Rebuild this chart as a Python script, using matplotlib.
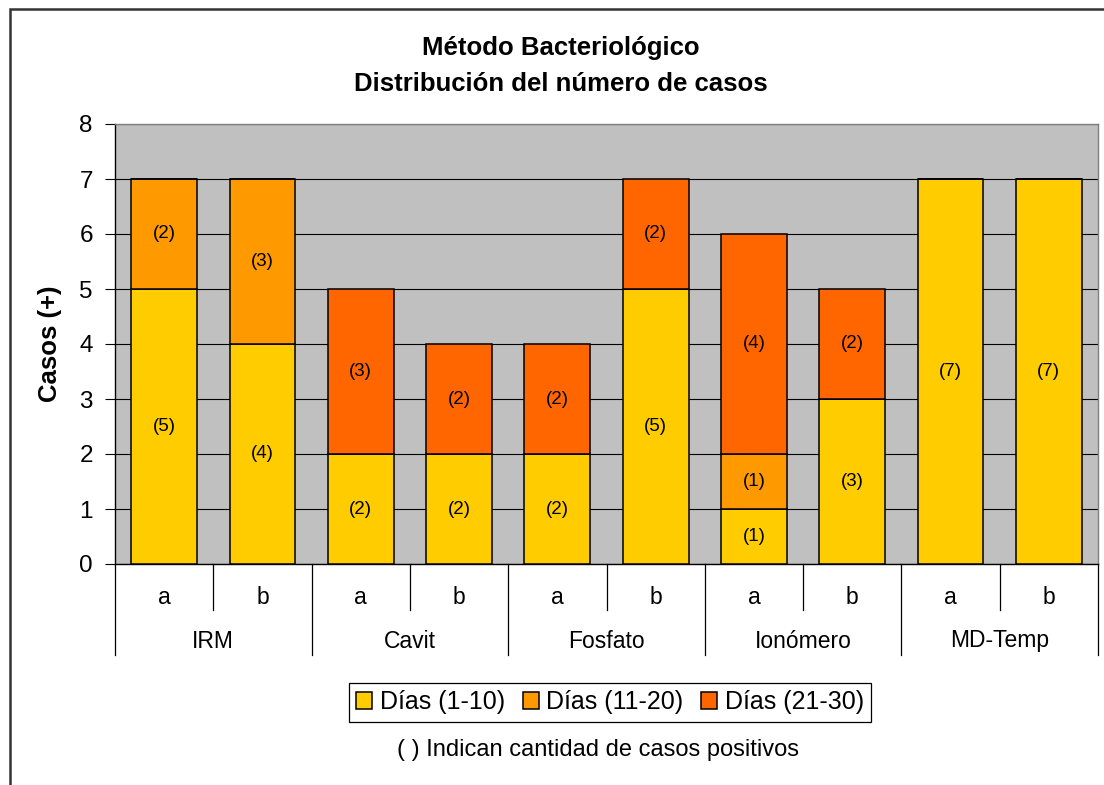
import matplotlib.pyplot as plt
import numpy as np
from matplotlib.patches import Rectangle

plt.rcParams['font.family'] = ['Liberation Sans', 'DejaVu Sans']

groups = ['IRM', 'Cavit', 'Fosfato', 'Ionómero', 'MD-Temp']
subs = ['a', 'b']
dias_1_10 = [5, 4, 2, 2, 2, 5, 1, 3, 7, 7]
dias_11_20 = [2, 3, 0, 0, 0, 0, 1, 0, 0, 0]
dias_21_30 = [0, 0, 3, 2, 2, 2, 4, 2, 0, 0]
series_names = ['Días (1-10)', 'Días (11-20)', 'Días (21-30)']
colors = ['#FFCC00', '#FF9900', '#FF6600']

fig = plt.figure(figsize=(11.04, 7.85), dpi=100)
ax = fig.add_axes([115 / 1104, 1 - 564 / 785, 983 / 1104, 440 / 785])
ax.set_facecolor('#C0C0C0')

# marco exterior del gráfico
fig.patches.append(Rectangle((10 / 1104, -0.05), 1.2, 1.05 - 9 / 785, transform=fig.transFigure,
                             fill=False, edgecolor='#333333', linewidth=1.8))

x = np.arange(len(dias_1_10))
bottom = np.zeros(len(x))
handles = []
for vals, name, col in zip([dias_1_10, dias_11_20, dias_21_30], series_names, colors):
    vals = np.array(vals)
    bars = ax.bar(x, vals, width=0.67, bottom=bottom, color=col, edgecolor='black',
                  linewidth=1.1, label=name, zorder=3)
    handles.append(bars)
    for xi, v, b in zip(x, vals, bottom):
        if v > 0:
            ax.text(xi, b + v / 2, f'({v})', ha='center', va='center', fontsize=13.5, zorder=4)
    bottom += vals

ax.set_xlim(-0.5, len(x) - 0.5)
ax.set_ylim(0, 8)
ax.set_yticks(range(0, 9))
ax.yaxis.grid(True, color='black', linewidth=0.8, zorder=1)
ax.set_axisbelow(True)
ax.tick_params(axis='y', direction='out', length=7, width=0.8, labelsize=17.5, pad=9)
ax.tick_params(axis='x', length=0, labelbottom=False)
ax.set_ylabel('Casos (+)', fontsize=18.5, fontweight='bold', labelpad=12)

ax.spines['left'].set_color('black')
ax.spines['bottom'].set_color('black')
ax.spines['top'].set_color('#808080')
ax.spines['right'].set_color('#808080')
for s in ax.spines.values():
    s.set_linewidth(1.0)

# eje de categorías en dos niveles
tr = ax.get_xaxis_transform()
h = 440
for i in range(len(x) + 1):
    xe = i - 0.5
    depth = 91 / h if i % 2 == 0 else 46 / h
    ax.plot([xe, xe], [0, -depth], transform=tr, color='black', linewidth=0.9, clip_on=False)
for i in range(len(x)):
    ax.text(i, -33 / h, subs[i % 2], transform=tr, ha='center', va='center', fontsize=16.5)
for g, name in enumerate(groups):
    ax.text(2 * g + 0.5, -77 / h, name, transform=tr, ha='center', va='center', fontsize=16.5)

fig.text(561 / 1104, 1 - 48 / 785, 'Método Bacteriológico', ha='center', va='center',
         fontsize=18.5, fontweight='bold')
fig.text(561 / 1104, 1 - 84 / 785, 'Distribución del número de casos', ha='center', va='center',
         fontsize=18.5, fontweight='bold')

leg = fig.legend(handles=handles, labels=series_names, loc='center', ncol=3,
                 bbox_to_anchor=(610 / 1104, 1 - 702.5 / 785), fontsize=18,
                 frameon=True, fancybox=False, edgecolor='black', framealpha=1,
                 handlelength=0.65, handleheight=0.65, handletextpad=0.3,
                 columnspacing=0.7, borderpad=0.3)
leg.get_frame().set_linewidth(0.9)

fig.text(598 / 1104, 1 - 750 / 785, '( ) Indican cantidad de casos positivos',
         ha='center', va='center', fontsize=17)

fig.savefig('out.png', dpi=100)
